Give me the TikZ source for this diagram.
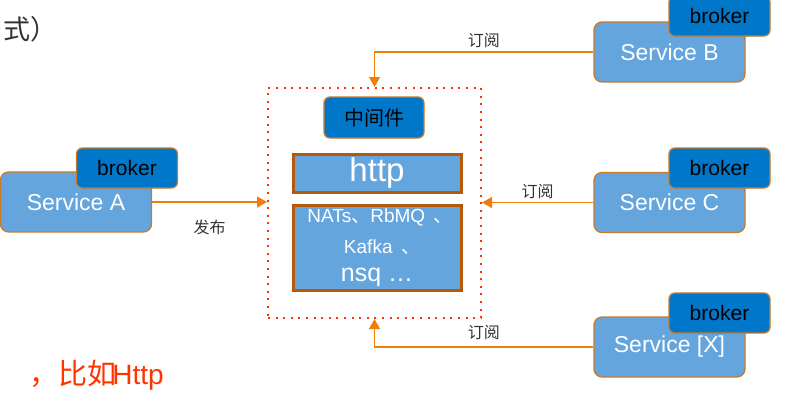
\documentclass[tikz,border=0pt]{standalone}
\usepackage{fontspec}
\setmainfont{Liberation Sans}
\newfontfamily\cjk{Noto Sans CJK SC}
\usetikzlibrary{arrows.meta}

\definecolor{svcblue}{HTML}{65A5DD}
\definecolor{brokerblue}{HTML}{0077C8}
\definecolor{svcedge}{HTML}{C87A2A}
\definecolor{boxedge}{HTML}{B45A0A}
\definecolor{arrorange}{HTML}{F07F09}
\definecolor{dotred}{HTML}{FF3300}

\tikzset{
  service/.style={draw=svcedge, line width=1.3pt, fill=svcblue, rounded corners=8pt,
    minimum width=151pt, minimum height=60pt, text=white, font=\fontsize{23}{25}\selectfont},
  broker/.style={draw=svcedge, line width=1.3pt, fill=brokerblue, rounded corners=6pt,
    minimum width=101pt, minimum height=40pt, font=\fontsize{21}{23}\selectfont},
  mqbox/.style={draw=boxedge, line width=3pt, fill=svcblue, minimum width=168pt, text=white},
  flow/.style={draw=arrorange, line width=1.3pt, -{Triangle[length=10pt,width=11pt]}},
  flowlabel/.style={font=\cjk\fontsize{16}{17}\selectfont, text=black!80}
}

\begin{document}
\begin{tikzpicture}[x=1pt,y=-1pt]
  \useasboundingbox (0,0) rectangle (795,400);

  % text cut off at the left edge
  \node[anchor=west, inner sep=0pt, text=black!80] (topnote) at (3,29) {\cjk\fontsize{27}{29}\selectfont 式）};
  \node[anchor=east, inner sep=0pt, text=dotred] (bottomnote) at (164,375)
    {{\cjk\fontsize{29}{30}\selectfont ，比如}\hspace{-4pt}{\fontsize{28}{30}\selectfont Http}};

  % middleware
  \node[draw=dotred, line width=2pt, dash pattern=on 2pt off 5.6pt,
        minimum width=213pt, minimum height=230pt] (mw) at (374.5,203) {};
  \node[draw=svcedge, line width=1.3pt, fill=brokerblue, rounded corners=6pt,
        minimum width=100pt, minimum height=41pt, font=\cjk\fontsize{20}{22}\selectfont] (mwtitle) at (374,117.5) {中间件};
  \node[mqbox, minimum height=38pt, font=\fontsize{33}{35}\selectfont] (http) at (377,173) {http};
  \node[mqbox, minimum height=85pt] (mq) at (377,247.5) {};
  \node[text=white, font=\fontsize{19}{21}\selectfont] (mqa) at (380,217) {NATs{\cjk 、}RbMQ\, {\cjk 、}};
  \node[text=white, font=\fontsize{19}{21}\selectfont] (mqb) at (382,247) {Kafka\, {\cjk 、}};
  \node[text=white, font=\fontsize{25}{27}\selectfont] (mqc) at (377,277) {nsq …};

  % services
  \node[service] (svcA) at (76,202) {Service A};
  \node[broker] (brkA) at (127,168) {broker};
  \node[service] (svcB) at (669.5,52) {Service B};
  \node[broker] (brkB) at (719.5,16) {broker};
  \node[service] (svcC) at (669.5,202.5) {Service C};
  \node[broker] (brkC) at (719.5,168) {broker};
  \node[service] (svcX) at (669.5,347) {Service [X]};
  \node[broker] (brkX) at (719.5,313) {broker};

  % publish / subscribe
  \draw[flow] (svcA.east) -- node[flowlabel, below=14pt] {发布} (svcA.east -| mw.west);
  \draw[flow] (svcB.west) -| node[flowlabel, pos=0.25, above] {订阅} (mw.north);
  \draw[flow] (svcC.west) -- node[flowlabel, above] {订阅} (svcC.west -| mw.east);
  \draw[flow] (svcX.west) -| node[flowlabel, pos=0.25, above=3pt] {订阅} (mw.south);
\end{tikzpicture}
\end{document}
